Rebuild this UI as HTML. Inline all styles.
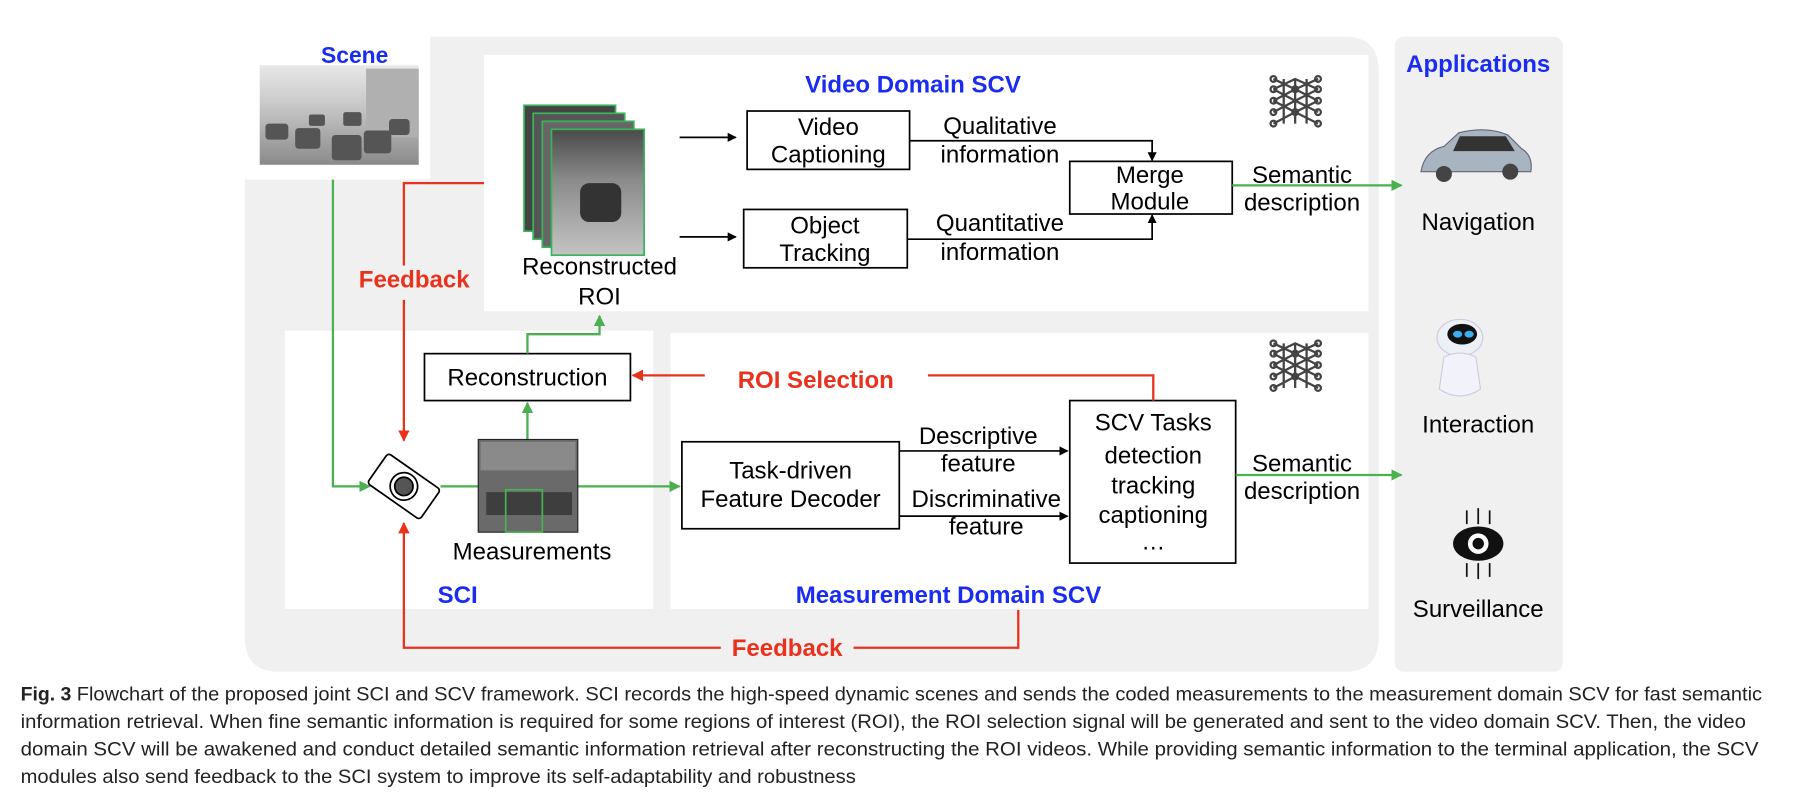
<!DOCTYPE html>
<html><head><meta charset="utf-8"><style>
html,body{margin:0;padding:0;background:#fff;width:1794px;height:808px;overflow:hidden}
svg{display:block}
text{font-family:"Liberation Sans",Arial,sans-serif}
</style></head><body>
<svg width="1794" height="808" viewBox="0 0 1568 706" preserveAspectRatio="none">
<defs>
<marker id="ak" markerWidth="8" markerHeight="8" refX="7" refY="4" orient="auto" markerUnits="userSpaceOnUse"><path d="M0,0 L8,4 L0,8 z" fill="#000"/></marker>
<marker id="ag" markerWidth="10" markerHeight="10" refX="9" refY="5" orient="auto" markerUnits="userSpaceOnUse"><path d="M0,0 L10,5 L0,10 z" fill="#4caf50"/></marker>
<marker id="ar" markerWidth="10" markerHeight="10" refX="9" refY="5" orient="auto" markerUnits="userSpaceOnUse"><path d="M0,0 L10,5 L0,10 z" fill="#e8321e"/></marker>
<linearGradient id="sky" x1="0" y1="0" x2="0" y2="1"><stop offset="0" stop-color="#e8e8e8"/><stop offset="0.4" stop-color="#c8c8c8"/><stop offset="1" stop-color="#8a8a8a"/></linearGradient>
<linearGradient id="fr" x1="0" y1="0" x2="0" y2="1"><stop offset="0" stop-color="#4a4a4a"/><stop offset="0.4" stop-color="#8a8a8a"/><stop offset="1" stop-color="#c4c4c4"/></linearGradient>
</defs>
<path d="M376,32 H1175 Q1205,32 1205,62 V557 Q1205,587 1175,587 H244 Q214,587 214,557 V157 H376 Z" fill="#f0f0f0"/>
<rect x="1219" y="32" width="147" height="555" rx="8" fill="#f0f0f0"/>
<rect x="423" y="48" width="773" height="224" fill="#fff"/>
<rect x="249" y="289" width="322" height="243" fill="#fff"/>
<rect x="586" y="291" width="610" height="241" fill="#fff"/>

<text x="310" y="55" font-size="20" font-weight="bold" fill="#1a2cf0" text-anchor="middle">Scene</text>
<rect x="227" y="57" width="139" height="87" fill="url(#sky)"/>
<rect x="320" y="60" width="46" height="60" fill="#b0b0b0"/>
<g fill="#555"><rect x="232" y="108" width="20" height="14" rx="3"/><rect x="258" y="112" width="22" height="18" rx="3"/><rect x="290" y="118" width="26" height="22" rx="3"/><rect x="318" y="114" width="24" height="20" rx="3"/><rect x="340" y="104" width="18" height="14" rx="3"/><rect x="270" y="100" width="14" height="10" rx="2"/><rect x="300" y="98" width="16" height="12" rx="2"/></g>

<text x="798" y="81" font-size="21" font-weight="bold" fill="#1a2cf0" text-anchor="middle">Video Domain SCV</text>

<g stroke="#444" stroke-width="2" fill="none">
<g transform="translate(1110,66)"><path d="M3,3 L22,12 L42,3 M3,12 L22,3 L42,12 M3,22 L22,32 L42,22 M3,32 L22,22 L42,32 M3,12 L22,22 M42,12 L22,22 M3,22 L22,12 M42,22 L22,12 M3,42 L22,32 L42,42 M22,3 V42 M12,3 V42 M32,3 V42"/><circle cx="3" cy="3" r="2.5"/><circle cx="3" cy="12" r="2.5"/><circle cx="3" cy="22" r="2.5"/><circle cx="3" cy="32" r="2.5"/><circle cx="3" cy="42" r="2.5"/><circle cx="42" cy="3" r="2.5"/><circle cx="42" cy="12" r="2.5"/><circle cx="42" cy="22" r="2.5"/><circle cx="42" cy="32" r="2.5"/><circle cx="42" cy="42" r="2.5"/><circle cx="22" cy="12" r="2.5"/><circle cx="22" cy="32" r="2.5"/></g>
<g transform="translate(1110,297)"><path d="M3,3 L22,12 L42,3 M3,12 L22,3 L42,12 M3,22 L22,32 L42,22 M3,32 L22,22 L42,32 M3,12 L22,22 M42,12 L22,22 M3,22 L22,12 M42,22 L22,12 M3,42 L22,32 L42,42 M22,3 V42 M12,3 V42 M32,3 V42"/><circle cx="3" cy="3" r="2.5"/><circle cx="3" cy="12" r="2.5"/><circle cx="3" cy="22" r="2.5"/><circle cx="3" cy="32" r="2.5"/><circle cx="3" cy="42" r="2.5"/><circle cx="42" cy="3" r="2.5"/><circle cx="42" cy="12" r="2.5"/><circle cx="42" cy="22" r="2.5"/><circle cx="42" cy="32" r="2.5"/><circle cx="42" cy="42" r="2.5"/><circle cx="22" cy="12" r="2.5"/><circle cx="22" cy="32" r="2.5"/></g>
</g>

<g stroke="#3cb35a" stroke-width="1.5">
<rect x="458" y="92" width="80" height="110" fill="#444"/>
<rect x="466" y="99" width="80" height="110" fill="#555"/>
<rect x="474" y="106" width="80" height="110" fill="#666"/>
<rect x="482" y="113" width="81" height="110" fill="url(#fr)"/>
</g>
<rect x="507" y="160" width="36" height="34" rx="8" fill="#333"/>
<text x="524" y="240" font-size="21" text-anchor="middle">Reconstructed</text>
<text x="524" y="266" font-size="21" text-anchor="middle">ROI</text>

<g stroke="#000" stroke-width="1.5" fill="none">
<line x1="594" y1="120" x2="643" y2="120" marker-end="url(#ak)"/>
<line x1="594" y1="207" x2="643" y2="207" marker-end="url(#ak)"/>
<rect x="653" y="97" width="142" height="51" fill="#fff"/>
<rect x="650" y="183" width="143" height="51" fill="#fff"/>
<rect x="935" y="141" width="142" height="46" fill="#fff"/>
<polyline points="795,123 1007,123 1007,140" marker-end="url(#ak)"/>
<polyline points="793,209 1007,209 1007,188" marker-end="url(#ak)"/>
<rect x="371" y="309" width="180" height="41" fill="#fff"/>
<rect x="596" y="386" width="190" height="76" fill="#fff"/>
<rect x="935" y="350" width="145" height="142" fill="#fff"/>
<line x1="786" y1="394" x2="933" y2="394" marker-end="url(#ak)"/>
<line x1="786" y1="451" x2="933" y2="451" marker-end="url(#ak)"/>
</g>
<g font-size="21" text-anchor="middle">
<text x="724" y="118">Video</text><text x="724" y="142">Captioning</text>
<text x="721" y="204">Object</text><text x="721" y="228">Tracking</text>
<text x="874" y="117">Qualitative</text><text x="874" y="142">information</text>
<text x="874" y="202">Quantitative</text><text x="874" y="227">information</text>
<text x="1005" y="160">Merge</text><text x="1005" y="183">Module</text>
<text x="1138" y="160">Semantic</text><text x="1138" y="184">description</text>
<text x="461" y="337">Reconstruction</text>
<text x="691" y="418">Task-driven</text><text x="691" y="443">Feature Decoder</text>
<text x="855" y="388">Descriptive</text><text x="855" y="412">feature</text>
<text x="862" y="443">Discriminative</text><text x="862" y="467">feature</text>
<text x="1008" y="376">SCV Tasks</text><text x="1008" y="405">detection</text><text x="1008" y="431">tracking</text><text x="1008" y="457">captioning</text><text x="1008" y="480">…</text>
<text x="1138" y="412">Semantic</text><text x="1138" y="436">description</text>
<text x="465" y="489">Measurements</text>
<text x="1292" y="201">Navigation</text>
<text x="1292" y="378">Interaction</text>
<text x="1292" y="539">Surveillance</text>
</g>
<text x="1292" y="63" font-size="21" font-weight="bold" fill="#1a2cf0" text-anchor="middle">Applications</text>
<text x="400" y="527" font-size="21" font-weight="bold" fill="#1a2cf0" text-anchor="middle">SCI</text>
<text x="829" y="527" font-size="21" font-weight="bold" fill="#1a2cf0" text-anchor="middle">Measurement Domain SCV</text>
<g font-size="21" font-weight="bold" fill="#e8321e" text-anchor="middle">
<text x="362" y="251">Feedback</text>
<text x="713" y="339">ROI Selection</text>
<text x="688" y="573">Feedback</text>
</g>

<g stroke="#4caf50" stroke-width="2" fill="none">
<polyline points="291,157 291,425 323,425" marker-end="url(#ag)"/>
<line x1="385" y1="425" x2="418" y2="425"/>
<line x1="505" y1="425" x2="594" y2="425" marker-end="url(#ag)"/>
<line x1="461" y1="384" x2="461" y2="352" marker-end="url(#ag)"/>
<polyline points="461,309 461,292 524,292 524,276" marker-end="url(#ag)"/>
<line x1="1077" y1="162" x2="1225" y2="162" marker-end="url(#ag)"/>
<line x1="1080" y1="415" x2="1225" y2="415" marker-end="url(#ag)"/>
</g>
<g stroke="#e8321e" stroke-width="2" fill="none">
<polyline points="423,160 353,160 353,232"/>
<line x1="353" y1="262" x2="353" y2="385" marker-end="url(#ar)"/>
<polyline points="1008,350 1008,328 811,328"/>
<line x1="616" y1="328" x2="553" y2="328" marker-end="url(#ar)"/>
<polyline points="890,533 890,566 746,566"/>
<polyline points="630,566 353,566 353,457" marker-end="url(#ar)"/>
</g>

<g transform="translate(353,425) rotate(35)" stroke="#000" stroke-width="1.5" fill="#fff">
<rect x="-28" y="-16" width="56" height="32" rx="3"/>
<circle cx="0" cy="0" r="12"/><circle cx="0" cy="0" r="8" fill="#555"/>
</g>
<rect x="418" y="384" width="87" height="81" fill="#6a6a6a" stroke="#222" stroke-width="1"/>
<rect x="420" y="386" width="83" height="25" fill="#8a8a8a"/>
<rect x="425" y="430" width="75" height="20" fill="#3e3e3e"/>
<rect x="442" y="428" width="32" height="37" fill="none" stroke="#4caf50" stroke-width="1.5"/>

<g>
<path d="M1242,150 Q1245,132 1262,128 L1275,116 Q1300,110 1318,118 L1330,130 Q1340,136 1338,150 Z" fill="#a8b4c0" stroke="#667" stroke-width="1"/>
<path d="M1276,119 L1316,119 L1324,132 L1270,132 Z" fill="#333"/>
<circle cx="1262" cy="152" r="7" fill="#444"/><circle cx="1320" cy="150" r="7" fill="#444"/>
<ellipse cx="1276" cy="295" rx="20" ry="16" fill="#eef0f8" stroke="#ccd" stroke-width="1"/>
<ellipse cx="1278" cy="292" rx="13" ry="9" fill="#111"/>
<ellipse cx="1274" cy="292" rx="4" ry="3" fill="#3aaef0"/><ellipse cx="1284" cy="292" rx="4" ry="3" fill="#3aaef0"/>
<path d="M1262,312 Q1276,305 1290,312 L1294,340 Q1276,352 1258,340 Z" fill="#f2f3fa" stroke="#ccd" stroke-width="1"/>
<ellipse cx="1292" cy="475" rx="22" ry="15" fill="#111"/>
<circle cx="1292" cy="475" r="9" fill="#fff"/><circle cx="1292" cy="475" r="5" fill="#111"/>
<path d="M1282,458 V446 M1292,458 V444 M1302,458 V446 M1282,492 V504 M1292,492 V506 M1302,492 V504" stroke="#111" stroke-width="1.5"/>
</g>

<g font-size="17" fill="#222">
<text x="18" y="612"><tspan font-weight="bold">Fig. 3</tspan>  <tspan textLength="1473" lengthAdjust="spacingAndGlyphs">Flowchart of the proposed joint SCI and SCV framework. SCI records the high-speed dynamic scenes and sends the coded measurements to the measurement domain SCV for fast semantic</tspan></text>
<text x="18" y="636" textLength="1508" lengthAdjust="spacingAndGlyphs">information retrieval. When fine semantic information is required for some regions of interest (ROI), the ROI selection signal will be generated and sent to the video domain SCV. Then, the video</text>
<text x="18" y="660" textLength="1519" lengthAdjust="spacingAndGlyphs">domain SCV will be awakened and conduct detailed semantic information retrieval after reconstructing the ROI videos. While providing semantic information to the terminal application, the SCV</text>
<text x="18" y="684" textLength="730" lengthAdjust="spacingAndGlyphs">modules also send feedback to the SCI system to improve its self-adaptability and robustness</text>
</g>
</svg>
</body></html>
